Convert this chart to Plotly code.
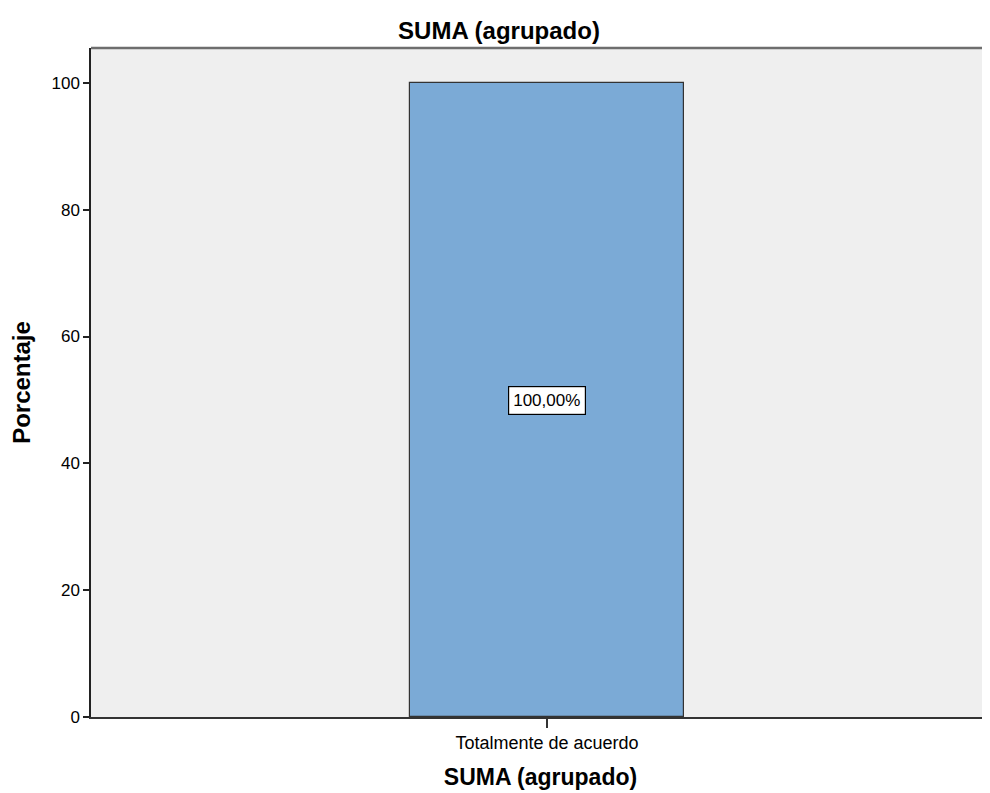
import plotly.graph_objects as go

categories = ["Totalmente de acuerdo"]
percentages = [100.0]
bar_labels = ["100,00%"]
y_ticks = [0, 20, 40, 60, 80, 100]

FONT = "Liberation Sans, Arial, sans-serif"

fig = go.Figure()
fig.add_trace(go.Bar(
    x=categories,
    y=percentages,
    width=0.3,
    marker=dict(color="#7BAAD6", line=dict(color="#333333", width=1.2)),
    hoverinfo="x+y",
))

for c, v, lab in zip(categories, percentages, bar_labels):
    fig.add_annotation(
        x=c, y=v / 2, text=lab, showarrow=False,
        font=dict(family=FONT, size=17, color="black"),
        bgcolor="white", bordercolor="black", borderwidth=1.2, borderpad=4,
        yshift=-1,
    )

fig.add_shape(type="line", xref="paper", yref="paper", x0=0, x1=1, y0=1, y1=1,
              line=dict(color="#6E6E6E", width=2.5))

# the page body adds an 8px offset; figure sized/margined to compensate
fig.update_layout(
    width=982, height=785,
    margin=dict(l=83, r=0, t=40, b=76),
    paper_bgcolor="white",
    plot_bgcolor="#EFEFEF",
    showlegend=False,
    title=dict(text="<b>SUMA (agrupado)</b>", x=(499 - 8) / 982, xanchor="center",
               y=1 - 23 / 785, yanchor="middle",
               font=dict(family=FONT, size=24, color="black")),
    xaxis=dict(
        type="category", range=[-0.5, 0.4857],
        showline=True, linecolor="#333333", linewidth=1.5,
        ticks="outside", ticklen=9, tickcolor="#333333", tickwidth=1.5,
        tickfont=dict(family=FONT, size=18, color="black"),
        showgrid=False, zeroline=False,
        title=dict(text="<b>SUMA (agrupado)</b>", standoff=17,
                   font=dict(family=FONT, size=23, color="black")),
    ),
    yaxis=dict(
        range=[0, 105.5], tickvals=y_ticks,
        showline=True, linecolor="#222222", linewidth=1.5,
        ticks="outside", ticklen=6, tickcolor="#222222", tickwidth=1.5,
        tickfont=dict(family=FONT, size=17, color="black"),
        showgrid=False, zeroline=False,
        title=dict(text="<b>Porcentaje</b>", standoff=14,
                   font=dict(family=FONT, size=24, color="black")),
    ),
    bargap=0,
)

fig.write_html("out.html")
